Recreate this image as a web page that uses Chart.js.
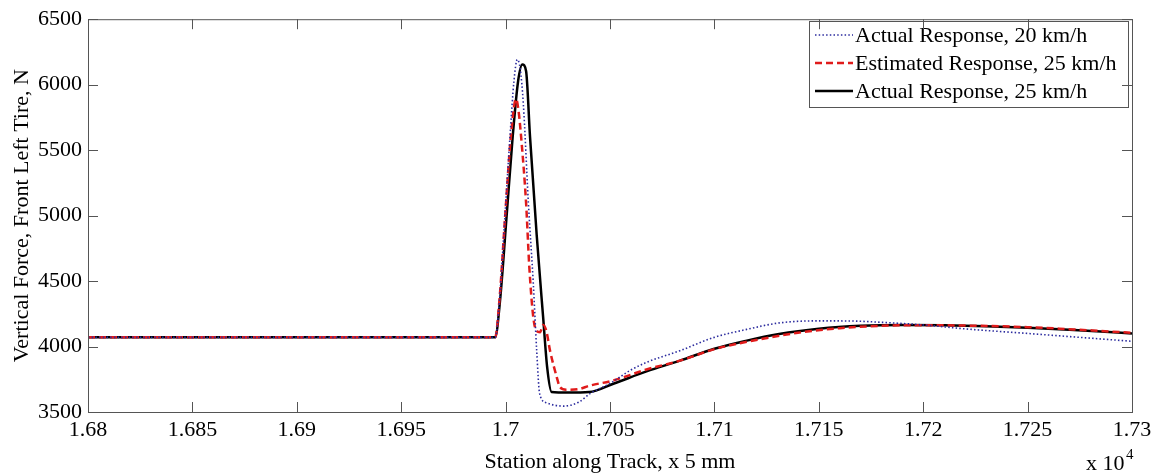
<!DOCTYPE html>
<html>
<head>
<meta charset="utf-8">
<script src="https://cdn.jsdelivr.net/npm/chart.js@4.4.1/dist/chart.umd.min.js"></script>
<style>
    body { margin: 0; background: #fff; }
    #wrap { width: 1161px; height: 473px; }
</style>
</head>
<body>
<div id="wrap"><canvas id="myChart" width="1161" height="473"></canvas></div>
<script>
// stations along track (x 5 mm) and vertical force (N)
let stationAct20 = [16800, 16995, 16997, 16999.7, 17002.1, 17004, 17005.6, 17007, 17008.5, 17010.9, 17013.3, 17014.9,
                    17016.3, 17019.6, 17027.6, 17035, 17040.4, 17050, 17059.6, 17067.5, 17083.5, 17099.5, 17115.5,
                    17131.4, 17150, 17165, 17180, 17200, 17220, 17250, 17275, 17300],
    forceAct20 = [4070, 4070, 4344, 5000, 5604, 6028, 6192, 6120, 5852, 5099, 4472, 3967,
                  3640, 3570, 3545, 3575, 3640, 3718, 3817, 3879, 3968, 4068, 4131,
                  4181, 4196, 4195, 4185, 4165, 4135, 4100, 4070, 4040];

let stationEst25 = [16800, 16995, 16997, 16999.8, 17002.5, 17005, 17006.2, 17007.7, 17009.8, 17011.4, 17013.3, 17014.9,
                    17016.5, 17018, 17019.5, 17021.3, 17024.5, 17026, 17029, 17035, 17040, 17051.6, 17067.5, 17083.5,
                    17100, 17120, 17140, 17160, 17180, 17200, 17220, 17250, 17275, 17300],
    forceEst25 = [4070, 4070, 4344, 5000, 5600, 5890, 5800, 5551, 5099, 4596, 4219, 4118,
                  4110, 4165, 4120, 3967, 3766, 3691, 3670, 3675, 3700, 3741, 3825, 3892,
                  3980, 4050, 4105, 4140, 4158, 4163, 4160, 4148, 4128, 4105];

let stationAct25 = [16800, 16995, 16997.3, 17000.5, 17003.4, 17006, 17008, 17009.8, 17011.7, 17014.9, 17018, 17019.9,
                    17022, 17030, 17040, 17051.6, 17067.5, 17083.5, 17100, 17115, 17131, 17150, 17170, 17190,
                    17210, 17230, 17250, 17270, 17285, 17300],
    forceAct25 = [4070, 4070, 4344, 5000, 5604, 6028, 6154, 6104, 5601, 4850, 4219, 3842,
                  3653, 3648, 3652, 3716, 3810, 3892, 3983, 4043, 4095, 4135, 4158, 4165,
                  4163, 4155, 4143, 4128, 4115, 4100];

let seriesNames = ["Actual Response, 20 km/h", "Estimated Response, 25 km/h", "Actual Response, 25 km/h"];

let xTicks = [16800, 16850, 16900, 16950, 17000, 17050, 17100, 17150, 17200, 17250, 17300],
    yTicks = [3500, 4000, 4500, 5000, 5500, 6000, 6500];

let fontFam = "'Liberation Serif', 'Times New Roman', serif",
    axisColor = "#555";

function punti(xs, ys) {
    let out = [];
    for (let i = 0; i < xs.length; i++)
        out.push({ x: xs[i], y: ys[i] });
    return out;
}

//riquadro, tacche interne e testo x 10^4
let boxPlugin = {
    id: "boxPlugin",
    afterDraw(chart) {
        let ctx = chart.ctx, a = chart.chartArea,
            sx = chart.scales.x, sy = chart.scales.y, len = 10;
        ctx.save();
        ctx.strokeStyle = axisColor;
        ctx.lineWidth = 1;
        ctx.strokeRect(a.left + 0.5, a.top + 0.5, a.right - a.left, a.bottom - a.top);
        ctx.beginPath();
        sx.ticks.forEach(t => {
            let px = Math.round(sx.getPixelForValue(t.value)) + 0.5;
            ctx.moveTo(px, a.bottom); ctx.lineTo(px, a.bottom - len);
            ctx.moveTo(px, a.top); ctx.lineTo(px, a.top + len);
        });
        sy.ticks.forEach(t => {
            let py = Math.round(sy.getPixelForValue(t.value)) + 0.5;
            ctx.moveTo(a.left, py); ctx.lineTo(a.left + len, py);
            ctx.moveTo(a.right, py); ctx.lineTo(a.right - len, py);
        });
        ctx.stroke();

        ctx.fillStyle = "#000";
        ctx.textBaseline = "alphabetic";
        ctx.textAlign = "left";
        ctx.font = "22px " + fontFam;
        ctx.fillText("x 10", 1086, 470);
        ctx.font = "15px " + fontFam;
        ctx.fillText("4", 1126, 459);
        ctx.restore();
    },
    afterDatasetsDraw(chart) {
        //legenda dentro l'area del grafico
        let ctx = chart.ctx,
            bx = 809, by = 21, bw = 319, bh = 86;
        ctx.save();
        ctx.fillStyle = "#fff";
        ctx.fillRect(bx, by, bw, bh);
        ctx.strokeStyle = axisColor;
        ctx.lineWidth = 1;
        ctx.strokeRect(bx + 0.5, by + 0.5, bw, bh);
        chart.data.datasets.forEach((ds, i) => {
            let yy = by + 14 + i * 28;
            ctx.beginPath();
            ctx.strokeStyle = ds.borderColor;
            ctx.lineWidth = ds.borderWidth;
            ctx.setLineDash(ds.borderDash || []);
            ctx.moveTo(bx + 6, yy);
            ctx.lineTo(bx + 44, yy);
            ctx.stroke();
            ctx.setLineDash([]);
            ctx.fillStyle = "#000";
            ctx.font = "22px " + fontFam;
            ctx.textBaseline = "middle";
            ctx.textAlign = "left";
            ctx.fillText(ds.label, bx + 46, yy + 1);
        });
        ctx.restore();
    }
};

let ctx = document.getElementById("myChart");
let _myChart = new Chart(ctx, {
    type: "line",
    data: {
        datasets: [
            {
                label: seriesNames[0],
                data: punti(stationAct20, forceAct20),
                borderColor: "#2b2b9e",
                borderWidth: 1.6,
                borderDash: [1.5, 2.2]
            },
            {
                label: seriesNames[1],
                data: punti(stationEst25, forceEst25),
                borderColor: "#e01b1b",
                borderWidth: 2.5,
                borderDash: [7, 4]
            },
            {
                label: seriesNames[2],
                data: punti(stationAct25, forceAct25),
                borderColor: "#000",
                borderWidth: 2.5
            }
        ]
    },
    options: {
        responsive: false,
        animation: false,
        devicePixelRatio: 1,
        cubicInterpolationMode: "monotone",
        elements: { point: { radius: 0 } },
        layout: { padding: { top: 14, right: 29, left: 0, bottom: 0 } },
        plugins: { legend: { display: false }, tooltip: { enabled: false } },
        scales: {
            x: {
                type: "linear",
                min: 16800, max: 17300,
                afterBuildTicks: s => { s.ticks = xTicks.map(v => ({ value: v })); },
                afterFit: s => { s.height = 61; },
                grid: { drawOnChartArea: false, drawTicks: false },
                border: { display: false },
                ticks: {
                    padding: 5,
                    color: "#000",
                    font: { family: fontFam, size: 22 },
                    maxRotation: 0,
                    callback: v => String(parseFloat((v / 10000).toFixed(4)))
                },
                title: {
                    display: true,
                    text: "Station along Track, x 5 mm",
                    color: "#000",
                    font: { family: fontFam, size: 22, lineHeight: 1 },
                    padding: { top: 0, bottom: 0 }
                }
            },
            y: {
                min: 3500, max: 6500,
                afterBuildTicks: s => { s.ticks = yTicks.map(v => ({ value: v })); },
                afterFit: s => { s.width = 88; },
                grid: { drawOnChartArea: false, drawTicks: false },
                border: { display: false },
                ticks: {
                    padding: 6,
                    color: "#000",
                    font: { family: fontFam, size: 22 },
                    callback: v => String(v)
                },
                title: {
                    display: true,
                    text: "Vertical Force, Front Left Tire, N",
                    color: "#000",
                    font: { family: fontFam, size: 22, lineHeight: 1 },
                    padding: { top: 11, bottom: 0 }
                }
            }
        }
    },
    plugins: [boxPlugin]
});
</script>
</body>
</html>
